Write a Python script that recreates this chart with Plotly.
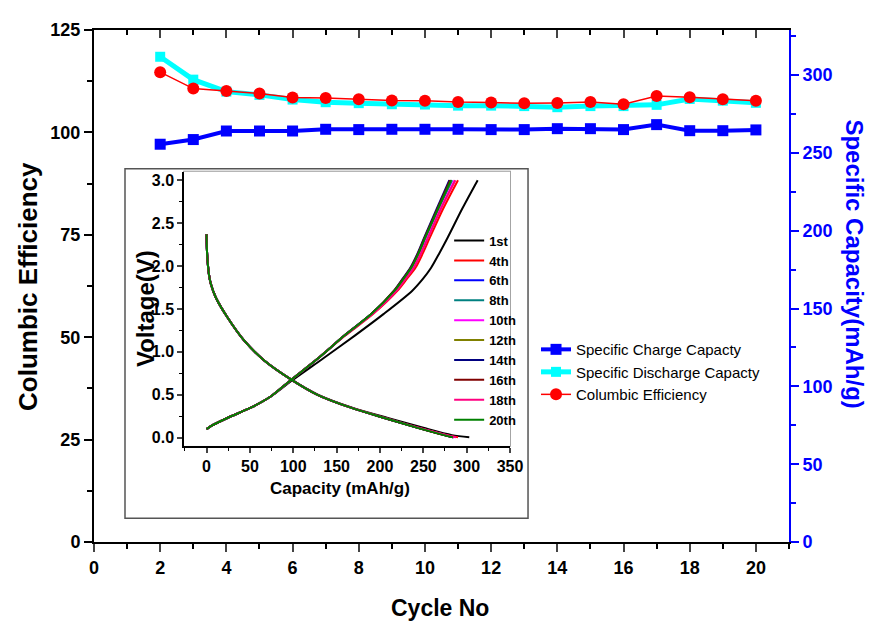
import plotly.graph_objects as go

# ---------------- main chart data ----------------
cycles = [2, 3, 4, 5, 6, 7, 8, 9, 10, 11, 12, 13, 14, 15, 16, 17, 18, 19, 20]
charge_cap = [255.6, 258.6, 264.1, 264.1, 264.1, 265.2, 265.0, 265.2, 265.2, 265.2,
              265.0, 265.0, 265.6, 265.6, 265.0, 268.2, 264.3, 264.3, 264.8]
discharge_cap = [311.8, 297.1, 289.4, 287.3, 284.3, 282.6, 282.0, 281.3, 281.1, 280.4,
                 280.4, 280.1, 279.4, 280.1, 280.1, 280.9, 284.7, 283.6, 282.2]
efficiency = [114.7, 110.7, 110.1, 109.5, 108.5, 108.4, 108.1, 107.8, 107.7, 107.4,
              107.3, 107.1, 107.2, 107.4, 106.9, 108.9, 108.6, 108.1, 107.7]

# ---------------- inset data (voltage profiles) ----------------
inset_names = ["1st", "4th", "6th", "8th", "10th", "12th", "14th", "16th", "18th", "20th"]
inset_colors = ["#000000", "#FF0000", "#0000FF", "#008080", "#FF00FF",
                "#808000", "#000080", "#800000", "#FF0080", "#008000"]

dis_V = [2.37, 2.2, 2.06, 1.9, 1.79, 1.63, 1.40, 1.13, 0.90, 0.68, 0.50, 0.35, 0.23, 0.115, 0.03, 0.005]
dis_cap = {
    "1st":  [0, 0.4, 1.2, 2.8, 5, 10.8, 24.2, 43.5, 66.5, 97.3, 129, 168, 209, 250, 283, 303],
    "4th":  [0, 0.4, 1.2, 2.8, 5, 10.8, 24.2, 43.5, 66.5, 97.3, 128, 167, 206, 246, 278, 290],
    "6th":  [0, 0.4, 1.2, 2.8, 5, 10.8, 24.2, 43.5, 66.5, 97.3, 128, 166.5, 205, 244, 275, 285],
    "8th":  [0, 0.4, 1.2, 2.8, 5, 10.8, 24.2, 43.5, 66.5, 97.3, 128, 166.5, 205, 244, 275, 285],
    "10th": [0, 0.4, 1.2, 2.8, 5, 10.8, 24.2, 43.5, 66.5, 97.3, 128, 166.5, 205, 244.5, 276, 286],
    "12th": [0, 0.4, 1.2, 2.8, 5, 10.8, 24.2, 43.5, 66.5, 97.3, 128, 166.5, 205, 243.5, 274, 284.5],
    "14th": [0, 0.4, 1.2, 2.8, 5, 10.8, 24.2, 43.5, 66.5, 97.3, 128, 166.5, 205, 243.5, 274, 284],
    "16th": [0, 0.4, 1.2, 2.8, 5, 10.8, 24.2, 43.5, 66.5, 97.3, 128, 166.5, 205, 243.5, 274, 284.5],
    "18th": [0, 0.4, 1.2, 2.8, 5, 10.8, 24.2, 43.5, 66.5, 97.3, 128, 166.5, 205.5, 245, 277, 288],
    "20th": [0, 0.4, 1.2, 2.8, 5, 10.8, 24.2, 43.5, 66.5, 97.3, 128, 166.5, 205, 243.5, 274, 284],
}

ch_V = [0.10, 0.135, 0.23, 0.35, 0.48, 0.67, 0.92, 1.19, 1.44, 1.71, 1.85, 1.98, 2.15, 2.33, 2.67, 3.0]
ch_cap = {
    "1st":  [0, 5, 24, 51, 74, 99, 134, 171, 204, 237, 249.5, 259, 268.5, 278, 295, 312.7],
    "4th":  [0, 5, 24, 51, 74, 97, 128, 160, 192, 220, 231, 241, 249.5, 257.5, 273, 290],
    "6th":  [0, 5, 24, 51, 74, 97, 128, 159, 190, 217, 227.5, 236.5, 245, 252.5, 267.5, 283],
    "8th":  [0, 5, 24, 51, 74, 97, 128, 159, 190, 217, 227.5, 236.5, 245, 252.5, 267.5, 283],
    "10th": [0, 5, 24, 51, 74, 97, 128, 159, 191, 218.5, 229, 238.5, 247, 255, 270, 286],
    "12th": [0, 5, 24, 51, 74, 97, 128, 159, 190, 216.5, 227, 236, 244.5, 252, 267, 282],
    "14th": [0, 5, 24, 51, 74, 97, 128, 159, 190, 216, 226, 235, 243.5, 251, 265.5, 280],
    "16th": [0, 5, 24, 51, 74, 97, 128, 159, 190, 216, 226.5, 235.5, 244, 251.5, 266.5, 281],
    "18th": [0, 5, 24, 51, 74, 97, 128, 159, 191, 219, 229.5, 239, 247.5, 255.5, 270.5, 287],
    "20th": [0, 5, 24, 51, 74, 97, 128, 159, 190, 216.5, 227, 236, 244.5, 252, 267, 282],
}

FONT = "Liberation Sans, Arial, sans-serif"
BLUE = "#0000FF"

fig = go.Figure()

# main series (capacity on primary y = right side, efficiency on y2 = left side, drawn on top)
fig.add_trace(go.Scatter(
    x=cycles, y=charge_cap, name="Specific Charge Capacty", mode="lines+markers",
    line=dict(color=BLUE, width=4), marker=dict(symbol="square", size=11, color=BLUE),
    xaxis="x", yaxis="y", legend="legend"))
fig.add_trace(go.Scatter(
    x=cycles, y=discharge_cap, name="Specific Discharge Capacty", mode="lines+markers",
    line=dict(color="#00FFFF", width=5), marker=dict(symbol="square", size=10, color="#00FFFF"),
    xaxis="x", yaxis="y", legend="legend"))
fig.add_trace(go.Scatter(
    x=cycles, y=efficiency, name="Columbic Efficiency", mode="lines+markers",
    line=dict(color="#FF0000", width=1.5), marker=dict(symbol="circle", size=12, color="#FF0000"),
    xaxis="x", yaxis="y2", legend="legend"))
# carrier for the mirrored top axis
fig.add_trace(go.Scatter(x=[], y=[], xaxis="x2", yaxis="y", showlegend=False, hoverinfo="skip"))

# inset curves
for name, col in zip(inset_names, inset_colors):
    xs = dis_cap[name] + [None] + ch_cap[name]
    ys = dis_V + [None] + ch_V
    fig.add_trace(go.Scatter(
        x=xs, y=ys, name=name, mode="lines",
        line=dict(color=col, width=2, shape="spline", smoothing=0.8),
        xaxis="x3", yaxis="y3", legend="legend2", connectgaps=False))

tick_main = dict(family=FONT, size=18, color="black", weight="bold")
tick_inset = dict(family=FONT, size=16, color="black", weight="bold")

fig.update_layout(
    width=865, height=615,
    margin=dict(l=86, r=84, t=17, b=81),
    paper_bgcolor="white", plot_bgcolor="white",
    showlegend=True,
    xaxis=dict(range=[0, 21], dtick=2, tick0=0, ticks="outside", ticklen=8, tickwidth=2,
               showline=True, linecolor="black", linewidth=2, showgrid=False, zeroline=False,
               tickfont=tick_main, anchor="y",
               minor=dict(dtick=1, ticks="outside", ticklen=5, tickwidth=1.5, tickcolor="black")),
    xaxis2=dict(range=[0, 21], dtick=2, tick0=0, ticks="inside", ticklen=8, tickwidth=2,
                overlaying="x", side="top", showticklabels=False, anchor="y",
                showline=True, linecolor="black", linewidth=2, showgrid=False, zeroline=False,
                minor=dict(dtick=1, ticks="inside", ticklen=5, tickwidth=1.5, tickcolor="black")),
    yaxis=dict(range=[0, 329], dtick=50, tick0=0, side="right", anchor="x",
               ticks="outside", ticklen=8, tickwidth=2, tickcolor=BLUE,
               showline=True, linecolor=BLUE, linewidth=2, showgrid=False, zeroline=False,
               tickfont=dict(family=FONT, size=18, color=BLUE, weight="bold"),
               minor=dict(dtick=25, ticks="outside", ticklen=5, tickwidth=1.5, tickcolor=BLUE)),
    yaxis2=dict(range=[0, 125], dtick=25, tick0=0, side="left", overlaying="y", anchor="x",
                ticks="outside", ticklen=8, tickwidth=2, tickcolor="black",
                showline=True, linecolor="black", linewidth=2, showgrid=False, zeroline=False,
                tickfont=tick_main,
                minor=dict(dtick=12.5, ticks="outside", ticklen=5, tickwidth=1.5, tickcolor="black")),
    xaxis3=dict(domain=[0.1295, 0.5986], anchor="y3", range=[-26, 350], dtick=50, tick0=0,
                ticks="outside", ticklen=5, tickwidth=1.5, showline=True, linecolor="black",
                linewidth=1.5, showgrid=False, zeroline=False, tickfont=tick_inset,
                minor=dict(dtick=25, ticks="outside", ticklen=3, tickwidth=1, tickcolor="black")),
    yaxis3=dict(domain=[0.1876, 0.7234], anchor="x3", range=[-0.096, 3.10], dtick=0.5, tick0=0,
                tickformat=".1f", ticks="outside", ticklen=5, tickwidth=1.5, showline=True,
                linecolor="black", linewidth=1.5, showgrid=False, zeroline=False, tickfont=tick_inset,
                minor=dict(dtick=0.25, ticks="outside", ticklen=3, tickwidth=1, tickcolor="black")),
    legend=dict(x=0.636, y=0.408, xanchor="left", yanchor="top", bgcolor="rgba(0,0,0,0)",
                font=dict(family=FONT, size=15, color="black"), tracegroupgap=0),
    legend2=dict(x=0.511, y=0.618, xanchor="left", yanchor="top", bgcolor="rgba(0,0,0,0)",
                 font=dict(family=FONT, size=13, color="black", weight="bold"), tracegroupgap=0),
    shapes=[
        dict(type="rect", xref="paper", yref="paper", x0=0.0446, x1=0.6245, y0=0.0464, y1=0.7292,
             line=dict(color="#555555", width=1.5), fillcolor="white", layer="below"),
        dict(type="rect", xref="x3 domain", yref="y3 domain", x0=0, x1=1, y0=0, y1=1,
             line=dict(color="#888888", width=1.5), layer="below"),
    ],
    annotations=[
        dict(text="Columbic Efficiency", xref="paper", yref="paper", x=-0.095, y=0.5,
             textangle=-90, showarrow=False, xanchor="center", yanchor="middle",
             font=dict(family=FONT, size=26, color="black", weight="bold")),
        dict(text="Specific Capacity(mAh/g)", xref="paper", yref="paper", x=1.094, y=0.5435,
             textangle=90, showarrow=False, xanchor="center", yanchor="middle",
             font=dict(family=FONT, size=24, color=BLUE, weight="bold")),
        dict(text="Cycle No", xref="paper", yref="paper", x=0.498, y=-0.128,
             showarrow=False, xanchor="center", yanchor="middle",
             font=dict(family=FONT, size=23, color="black", weight="bold")),
        dict(text="Voltage(V)", xref="paper", yref="paper", x=0.0734, y=0.455,
             textangle=-90, showarrow=False, xanchor="center", yanchor="middle",
             font=dict(family=FONT, size=24, color="black", weight="bold")),
        dict(text="Capacity (mAh/g)", xref="paper", yref="paper", x=0.354, y=0.1044,
             showarrow=False, xanchor="center", yanchor="middle",
             font=dict(family=FONT, size=17, color="black", weight="bold")),
    ],
)

fig.write_html("out.html")
